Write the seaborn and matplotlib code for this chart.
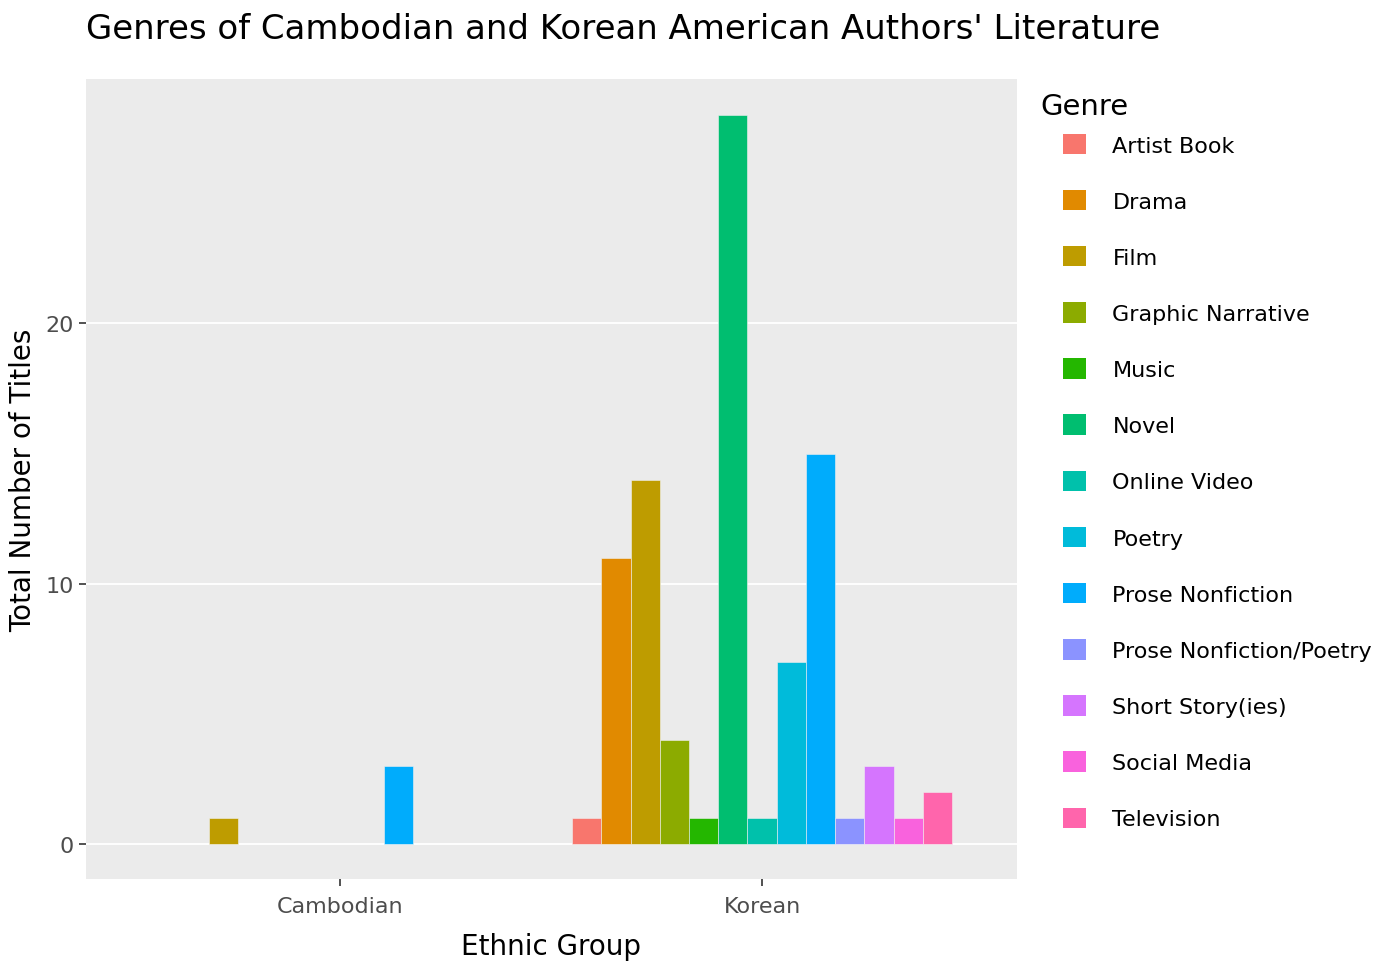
import pandas as pd
import matplotlib
matplotlib.use("Agg")
import matplotlib.pyplot as plt
from matplotlib.patches import Patch
import seaborn as sns

# data
genres = ["Artist Book", "Drama", "Film", "Graphic Narrative", "Music", "Novel",
          "Online Video", "Poetry", "Prose Nonfiction", "Prose Nonfiction/Poetry",
          "Short Story(ies)", "Social Media", "Television"]
groups = ["Cambodian", "Korean"]
cambodian_genres = ["Film", "Prose Nonfiction"]
cambodian_counts = [1, 3]
korean_counts = [1, 11, 14, 4, 1, 28, 1, 7, 15, 1, 3, 1, 2]

# ggplot2 default hue palette for 13 levels
colors = ["#F8766D", "#E18A00", "#BE9C00", "#8CAB00", "#24B700", "#00BE70",
          "#00C1AB", "#00BBDA", "#00ACFC", "#8B93FF", "#D575FE", "#F962DD", "#FF65AC"]

df = pd.concat([
    pd.DataFrame({"group": "Cambodian", "genre": cambodian_genres, "count": cambodian_counts}),
    pd.DataFrame({"group": "Korean", "genre": genres, "count": korean_counts}),
], ignore_index=True)

sns.set_style("white")
plt.rcParams["font.family"] = ["DejaVu Sans"]

fig = plt.figure(figsize=(14, 9.62), dpi=100)
ax = fig.add_axes([0.0614, 0.0853, 0.665, 0.8316])
ax.set_facecolor("#EBEBEB")
ax.grid(True, color="white", linewidth=1.3)
ax.set_axisbelow(True)

sns.barplot(data=df, x="group", y="count", hue="genre", hue_order=genres,
            order=groups, palette=colors, width=0.9, linewidth=0.4,
            edgecolor="#f0f0f0", saturation=1, legend=False, ax=ax)

ax.set_xlim(-0.602, 1.604)
ax.set_ylim(-1.35, 29.4)
ax.set_yticks([0, 10, 20])
for s in ax.spines.values():
    s.set_visible(False)
ax.tick_params(axis="both", bottom=True, left=True, direction="out", length=5,
               width=1.2, color="#333333", labelcolor="#4d4d4d", labelsize=16, pad=4)
ax.tick_params(axis="x", pad=7)

ax.set_xlabel("Ethnic Group", fontsize=20, labelpad=12, color="black")
ax.set_ylabel("Total Number of Titles", fontsize=20, labelpad=6, color="black")

fig.text(0.0614, 0.969, "Genres of Cambodian and Korean American Authors' Literature",
         fontsize=24.5, va="center", ha="left", color="black")

# legend on the right
fig.text(0.743, 0.889, "Genre", fontsize=21, va="center", ha="left", color="black")
handles = [Patch(facecolor=c, edgecolor="none") for c in colors]
fig.legend(handles, genres, loc="upper left", bbox_to_anchor=(0.759, 0.860),
           frameon=False, fontsize=16, handlelength=1.04, handleheight=1.04,
           handletextpad=1.2, labelspacing=1.545, borderaxespad=0, borderpad=0,
           labelcolor="black")

fig.savefig("out.png", dpi=100)
